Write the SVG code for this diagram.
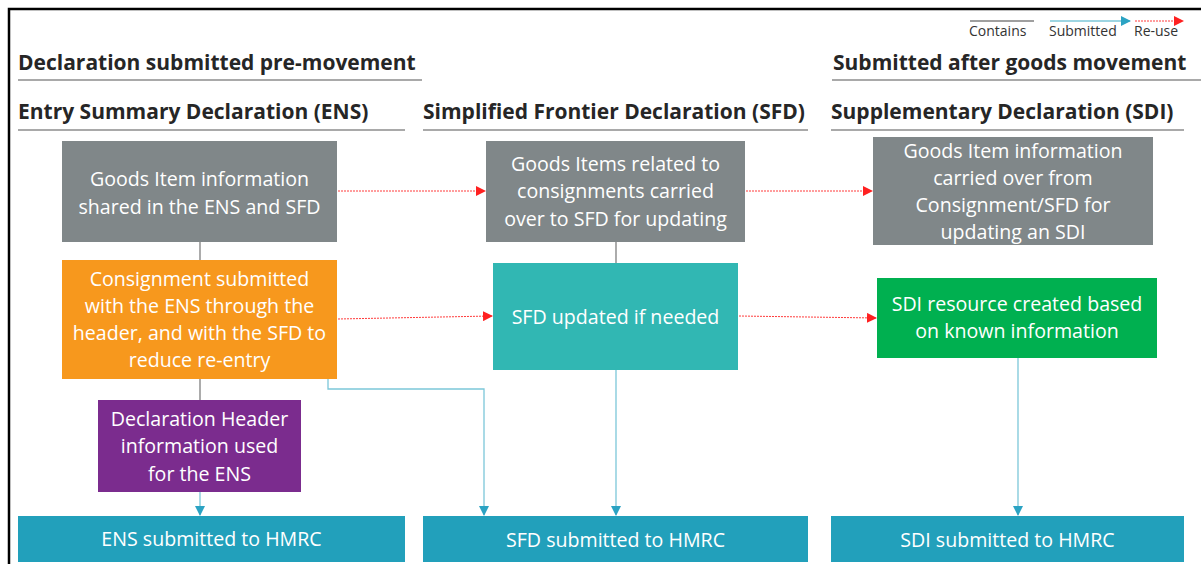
<svg xmlns="http://www.w3.org/2000/svg" width="1201" height="564" viewBox="0 0 1201 564">
<defs>
<style>
.hd{font-family:"Open Sans","Liberation Sans",sans-serif;font-weight:bold;font-size:21px;fill:#262626}
.ul{stroke:#8c8c8c;stroke-width:1.5}
.t{font-family:"Open Sans","Liberation Sans",sans-serif;font-size:19.6px;fill:#ffffff;text-anchor:middle}
.lg{font-family:"Open Sans","Liberation Sans",sans-serif;font-size:14px;fill:#333333}
.con{stroke:#7f7f7f;stroke-width:1.3;fill:none}
.sub{stroke:#7cc7d9;stroke-width:1.3;fill:none}
.reu{stroke:#ff3b3b;stroke-width:1;stroke-dasharray:2 1;fill:none}
</style>
<marker id="ab" markerWidth="10" markerHeight="10" refX="9" refY="5" orient="auto" markerUnits="userSpaceOnUse"><path d="M0,0 L10,5 L0,10 Z" fill="#2ba3c3"/></marker>
<marker id="ar" markerWidth="10" markerHeight="10" refX="9" refY="5" orient="auto" markerUnits="userSpaceOnUse"><path d="M0,0 L10,5 L0,10 Z" fill="#ff2020"/></marker>
</defs>
<rect width="1201" height="564" fill="#ffffff"/>
<path d="M9,564 V9 H1201" fill="none" stroke="#000" stroke-width="2.5"/>

<g id="legend">
<line x1="970" y1="21" x2="1034" y2="21" class="con"/>
<text x="969" y="36" class="lg">Contains</text>
<line x1="1050" y1="21" x2="1130" y2="21" class="sub" marker-end="url(#ab)"/>
<text x="1049" y="36" class="lg">Submitted</text>
<line x1="1135" y1="21" x2="1183" y2="21" class="reu" marker-end="url(#ar)"/>
<text x="1134" y="36" class="lg">Re-use</text>
</g>

<g id="headers">
<text x="18" y="70" class="hd">Declaration submitted pre-movement</text>
<line x1="18" y1="80" x2="422" y2="80" class="ul"/>
<text x="833" y="70" class="hd">Submitted after goods movement</text>
<line x1="832" y1="80" x2="1201" y2="80" class="ul"/>
<text x="18" y="119" class="hd">Entry Summary Declaration (ENS)</text>
<line x1="18" y1="130" x2="405" y2="130" class="ul"/>
<text x="423" y="119" class="hd">Simplified Frontier Declaration (SFD)</text>
<line x1="423" y1="130" x2="808" y2="130" class="ul"/>
<text x="831" y="119" class="hd">Supplementary Declaration (SDI)</text>
<line x1="831" y1="130" x2="1184" y2="130" class="ul"/>
</g>

<g id="connectors">
<line x1="200" y1="242" x2="200" y2="260" class="con"/>
<line x1="200" y1="379" x2="200" y2="400" class="con"/>
<line x1="616" y1="242" x2="616" y2="263" class="con"/>
<line x1="338" y1="191" x2="485" y2="191" class="reu" marker-end="url(#ar)"/>
<line x1="746" y1="191" x2="872" y2="191" class="reu" marker-end="url(#ar)"/>
<line x1="338" y1="319" x2="492" y2="316" class="reu" marker-end="url(#ar)"/>
<line x1="739" y1="316" x2="876" y2="318" class="reu" marker-end="url(#ar)"/>
<line x1="200" y1="492" x2="200" y2="515" class="sub" marker-end="url(#ab)"/>
<path d="M328,379 V389 H484 V515" class="sub" marker-end="url(#ab)"/>
<line x1="616" y1="370" x2="616" y2="515" class="sub" marker-end="url(#ab)"/>
<line x1="1018" y1="358" x2="1018" y2="515" class="sub" marker-end="url(#ab)"/>
</g>

<g id="n1">
<rect x="62" y="141" width="275" height="101" fill="#808789"/>
<text class="t"><tspan x="199.5" y="186">Goods Item information</tspan><tspan x="199.5" y="214">shared in the ENS and SFD</tspan></text>
</g>
<g id="n2">
<rect x="486" y="141" width="259" height="101" fill="#808789"/>
<text class="t"><tspan x="615.5" y="171">Goods Items related to</tspan><tspan x="615.5" y="198">consignments carried</tspan><tspan x="615.5" y="226">over to SFD for updating</tspan></text>
</g>
<g id="n3">
<rect x="873" y="137" width="280" height="108" fill="#808789"/>
<text class="t"><tspan x="1013" y="158">Goods Item information</tspan><tspan x="1013" y="185">carried over from</tspan><tspan x="1013" y="212">Consignment/SFD for</tspan><tspan x="1013" y="239">updating an SDI</tspan></text>
</g>
<g id="n4">
<rect x="62" y="260" width="275" height="119" fill="#f7981d"/>
<text class="t"><tspan x="199.5" y="286">Consignment submitted</tspan><tspan x="199.5" y="313">with the ENS through the</tspan><tspan x="199.5" y="340">header, and with the SFD to</tspan><tspan x="199.5" y="367">reduce re-entry</tspan></text>
</g>
<g id="n5">
<rect x="493" y="263" width="245" height="107" fill="#31b7b3"/>
<text class="t"><tspan x="615.5" y="324">SFD updated if needed</tspan></text>
</g>
<g id="n6">
<rect x="877" y="278" width="280" height="80" fill="#00b050"/>
<text class="t"><tspan x="1017" y="311">SDI resource created based</tspan><tspan x="1017" y="338">on known information</tspan></text>
</g>
<g id="n7">
<rect x="98" y="400" width="203" height="92" fill="#7b2c8e"/>
<text class="t"><tspan x="199.5" y="426">Declaration Header</tspan><tspan x="199.5" y="453">information used</tspan><tspan x="199.5" y="481">for the ENS</tspan></text>
</g>
<g id="n8">
<rect x="18" y="516" width="387" height="46" fill="#22a0bb"/>
<text class="t"><tspan x="211.5" y="546">ENS submitted to HMRC</tspan></text>
</g>
<g id="n9">
<rect x="423" y="516" width="385" height="46" fill="#22a0bb"/>
<text class="t"><tspan x="615.5" y="547">SFD submitted to HMRC</tspan></text>
</g>
<g id="n10">
<rect x="831" y="516" width="353" height="46" fill="#22a0bb"/>
<text class="t"><tspan x="1007.5" y="547">SDI submitted to HMRC</tspan></text>
</g>
</svg>
